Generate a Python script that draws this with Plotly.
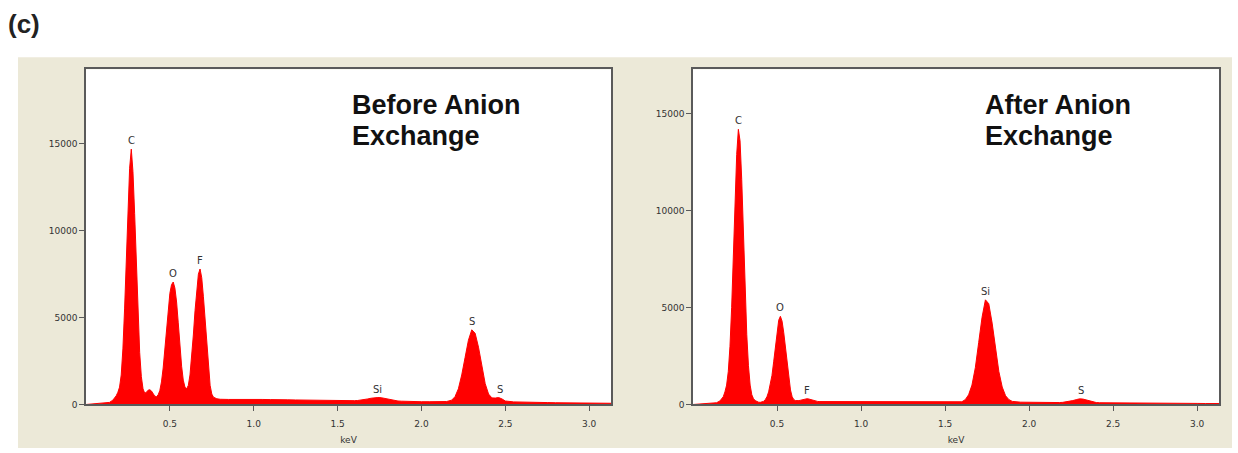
import plotly.graph_objects as go

# ---------------- data ----------------
energy_keV = [
    0.00, 0.05, 0.10, 0.12, 0.14, 0.16, 0.18,
    0.19, 0.20, 0.21, 0.22, 0.23, 0.24, 0.25, 0.26, 0.27, 0.28, 0.29, 0.30, 0.31, 0.32, 0.33, 0.34, 0.35,
    0.36, 0.37, 0.38, 0.39, 0.40, 0.41, 0.42, 0.43,
    0.44, 0.45, 0.46, 0.47, 0.48, 0.49, 0.50, 0.51, 0.52, 0.53, 0.54, 0.55, 0.56, 0.57, 0.58, 0.59, 0.60,
    0.61, 0.62, 0.63, 0.64, 0.65, 0.66, 0.67, 0.68, 0.69, 0.70, 0.71, 0.72, 0.73, 0.74, 0.75, 0.76,
    0.78, 0.80,
    0.85, 0.90, 0.95, 1.00, 1.05, 1.10, 1.15, 1.20, 1.25, 1.30, 1.35, 1.40, 1.45, 1.50, 1.55, 1.60,
    1.62, 1.64, 1.66, 1.68, 1.70, 1.72, 1.74, 1.76, 1.78, 1.80, 1.82, 1.84, 1.86, 1.88, 1.90,
    1.95, 2.00, 2.05, 2.10, 2.15,
    2.18, 2.20, 2.22, 2.24, 2.26, 2.28, 2.30, 2.32, 2.34, 2.36, 2.38, 2.40, 2.42, 2.44, 2.46, 2.48, 2.50,
    2.55, 2.60, 2.65, 2.70, 2.75, 2.80, 2.85, 2.90, 2.95, 3.00, 3.05, 3.10,
    3.13,
]

counts_before = [
    0, 30, 60, 80, 120, 250, 500,
    700, 1000, 1700, 3200, 5500, 8400, 11400, 13600, 14700, 13400, 11000, 8000, 5200, 3000, 1600, 900, 650,
    700, 820, 850, 780, 600, 480, 450, 550,
    800, 1300, 2100, 3100, 4300, 5500, 6400, 6900, 7050, 6700, 5900, 4700, 3400, 2200, 1400, 1000, 900,
    1100, 1700, 2700, 4000, 5400, 6700, 7500, 7800, 7300, 6200, 4800, 3300, 2000, 1100, 600, 420,
    330, 300,
    290, 300, 310, 300, 290, 280, 290, 270, 260, 250, 240, 230, 220, 210, 200, 220,
    230, 250, 280, 320, 360, 390, 400, 390, 350, 300, 250, 220, 200, 190, 180,
    170, 160, 160, 150, 170,
    250, 450, 900, 1700, 2700, 3700, 4300, 4100, 3300, 2200, 1200, 600, 380, 370, 400, 320, 200,
    150, 130, 120, 110, 110, 100, 100, 90, 90, 80, 80, 70,
    70,
]

counts_after = [
    0, 20, 40, 60, 90, 180, 400,
    650, 1000, 1700, 3000, 5000, 7700, 10500, 12900, 14200, 13600, 11600, 8800, 6000, 3600, 2000, 1000, 500,
    300, 200, 150, 120, 110, 120, 160, 250,
    400, 650, 1000, 1500, 2200, 3000, 3800, 4350, 4550, 4300, 3700, 2900, 2000, 1300, 750, 400, 250,
    200, 190, 200, 220, 250, 280, 300, 300, 280, 250, 220, 190, 170, 160, 150, 150,
    150, 150,
    150, 150, 145, 140, 140, 135, 130, 130, 125, 125, 120, 120, 115, 115, 120, 140,
    250, 500, 1000, 1900, 3200, 4500, 5400, 5200, 4200, 2900, 1700, 900, 450, 250, 160,
    120, 110, 100, 100, 100,
    100, 110, 130, 160, 200, 250, 290, 280, 230, 170, 130, 100, 90, 90, 90, 85, 80,
    80, 75, 70, 70, 65, 65, 60, 60, 55, 55, 50, 50,
    50,
]

before_labels = ["C", "O", "F", "Si", "S", "S"]
before_label_keV = [0.27, 0.52, 0.68, 1.74, 2.30, 2.47]
before_label_counts = [14700, 7050, 7800, 400, 4300, 400]

after_labels = ["C", "O", "F", "Si", "S"]
after_label_keV = [0.27, 0.52, 0.68, 1.74, 2.31]
after_label_counts = [14200, 4550, 300, 5400, 290]

x_tick_vals = [0.5, 1.0, 1.5, 2.0, 2.5, 3.0]
x_tick_text = ["0.5", "1.0", "1.5", "2.0", "2.5", "3.0"]
y_tick_vals = [0, 5000, 10000, 15000]
y_tick_text = ["0", "5000", "10000", "15000"]

title_lines_before = ["Before Anion", "Exchange"]
title_lines_after = ["After Anion", "Exchange"]

# ---------------- layout geometry ----------------
W, H = 1238, 453
def px_x(p):
    return p / W
def px_y(p):
    return 1 - p / H

left_dom = [px_x(86), px_x(611)]
right_dom = [px_x(693), px_x(1219)]
y_dom = [px_y(409), px_y(70)]

RED = "#FF0000"
BEIGE = "#ECE9D8"
AX = "#5a5a5a"
TXT = "#333333"

fig = go.Figure()
fig.add_trace(go.Scatter(x=energy_keV, y=counts_before, mode="lines",
                         line=dict(color=RED, width=1), fill="tozeroy", fillcolor=RED,
                         xaxis="x", yaxis="y", showlegend=False, hoverinfo="skip"))
fig.add_trace(go.Scatter(x=energy_keV, y=counts_after, mode="lines",
                         line=dict(color=RED, width=1), fill="tozeroy", fillcolor=RED,
                         xaxis="x2", yaxis="y2", showlegend=False, hoverinfo="skip"))

axis_common = dict(showgrid=False, zeroline=False, showline=True, linecolor=AX, linewidth=1.5,
                   mirror=True, ticks="outside", ticklen=5, tickcolor=AX, tickwidth=1,
                   tickfont=dict(family="DejaVu Sans", size=9, color=TXT))

xaxis_common = dict(axis_common, range=[0, 3.13], tickvals=x_tick_vals, ticktext=x_tick_text,
                    ticklabelstandoff=5,
                    title=dict(text="keV", font=dict(family="DejaVu Sans", size=9, color=TXT), standoff=9))
yaxis_common = dict(axis_common, tickvals=y_tick_vals, ticktext=y_tick_text)

annotations = []
for lab, ex, cy in zip(before_labels, before_label_keV, before_label_counts):
    annotations.append(dict(x=ex, y=cy, xref="x", yref="y", text=lab, showarrow=False,
                            yanchor="bottom", yshift=1,
                            font=dict(family="DejaVu Sans", size=10, color=TXT)))
for lab, ex, cy in zip(after_labels, after_label_keV, after_label_counts):
    annotations.append(dict(x=ex, y=cy, xref="x2", yref="y2", text=lab, showarrow=False,
                            yanchor="bottom", yshift=1,
                            font=dict(family="DejaVu Sans", size=10, color=TXT)))

title_font = dict(family="Liberation Sans", size=27, color="#111111")
for lines, xpx in ((title_lines_before, 350), (title_lines_after, 983)):
    for line, ypx in zip(lines, (106, 138)):
        annotations.append(dict(x=px_x(xpx), y=px_y(ypx), xref="paper", yref="paper",
                                text="<b>" + line + "</b>", showarrow=False,
                                xanchor="left", yanchor="middle", align="left", font=title_font))
annotations.append(dict(x=px_x(6), y=px_y(24), xref="paper", yref="paper", text="<b>(c)</b>",
                        showarrow=False, xanchor="left", yanchor="middle",
                        font=dict(family="Liberation Sans", size=26, color="#222222")))

shapes = [
    dict(type="rect", xref="paper", yref="paper", x0=px_x(18), x1=px_x(1232), y0=0, y1=px_y(58),
         fillcolor=BEIGE, line=dict(width=0), layer="below"),
    dict(type="rect", xref="paper", yref="paper", x0=left_dom[0], x1=left_dom[1], y0=y_dom[0], y1=y_dom[1],
         fillcolor="white", line=dict(width=0), layer="below"),
    dict(type="rect", xref="paper", yref="paper", x0=right_dom[0], x1=right_dom[1], y0=y_dom[0], y1=y_dom[1],
         fillcolor="white", line=dict(width=0), layer="below"),
]

fig.update_layout(
    width=W, height=H,
    margin=dict(l=0, r=0, t=0, b=0),
    paper_bgcolor="white", plot_bgcolor="white",
    xaxis=dict(xaxis_common, domain=left_dom, anchor="y"),
    yaxis=dict(yaxis_common, domain=y_dom, anchor="x", range=[0, 19300]),
    xaxis2=dict(xaxis_common, domain=right_dom, anchor="y2"),
    yaxis2=dict(yaxis_common, domain=y_dom, anchor="x2", range=[0, 17300]),
    annotations=annotations,
    shapes=shapes,
    showlegend=False,
)

fig.write_html("out.html", config={"displayModeBar": False},
               post_script="document.body.style.margin='0';document.body.style.overflow='hidden';")
